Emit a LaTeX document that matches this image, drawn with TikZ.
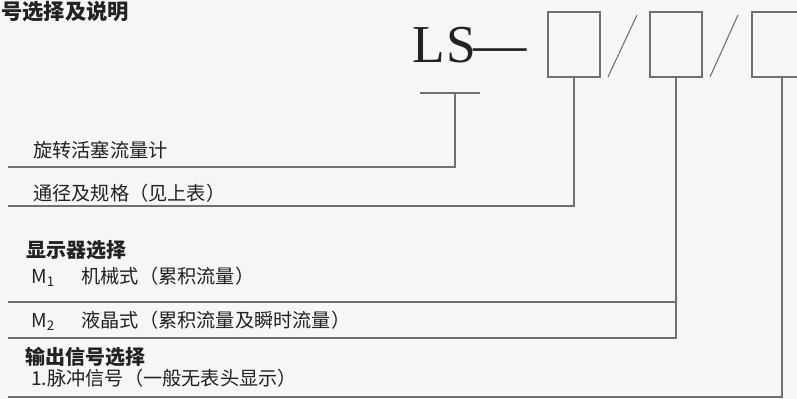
\documentclass[tikz,border=0pt]{standalone}
\usepackage{fontspec}
\setmainfont{Liberation Serif}
\newfontfamily\cjk{Noto Sans CJK SC}
\usetikzlibrary{positioning}

\definecolor{paper}{HTML}{F6F6F6}
\definecolor{ink}{HTML}{222222}
\definecolor{rule}{HTML}{707070}

\tikzstyle{selbox}=[draw=rule,line width=0.8pt,minimum width=39pt,minimum height=48.75pt,inner sep=0pt]
\tikzstyle{lead} = [draw=rule,line width=0.8pt]
\tikzstyle{label} = [anchor=west,inner sep=0pt,text=ink,font=\cjk\fontsize{14.4}{16}\selectfont]
\tikzstyle{head} = [label,font=\cjk\bfseries\fontsize{15}{18}\selectfont]

\begin{document}
\begin{tikzpicture}[x=0.75pt,y=-0.75pt]
    % canvas
    \fill[paper] (0,0) rectangle (797,399);
    \useasboundingbox (0,0) rectangle (797,399);
    \clip (0,0) rectangle (797,399);

    \node[head,font=\cjk\bfseries\fontsize{16}{18}\selectfont] (title) at (1,12) {号选择及说明};

    % model code
    \node[anchor=west,inner sep=0pt,text=ink,font=\fontsize{40}{44}\selectfont] (code) at (412,45) {L\kern1.5pt S\kern-2pt—};
    \node[selbox] (b1) at (574,44.5) {};
    \node[selbox] (b2) at (676,44.5) {};
    \node[selbox,minimum width=42pt] (b3) at (780,44.5) {};
    \draw[lead] (608,77) -- (637,15);
    \draw[lead] (710,77) -- (738,15);

    % descriptions
    \node[label] (rotary) at (33,150) {旋转活塞流量计};
    \node[label] (bore) at (33,193) {通径及规格（见上表）};
    \node[head] (disp) at (26,250) {显示器选择};
    \node[label] (m1) at (31,277) {M\textsubscript{1}\hspace{20pt}机械式（累积流量）};
    \node[label] (m2) at (31,321) {M\textsubscript{2}\hspace{20pt}液晶式（累积流量及瞬时流量）};
    \node[head] (out) at (25,357) {输出信号选择};
    \node[label] (pulse) at (31,378) {1.脉冲信号（一般无表头显示）};

    % leaders
    \coordinate (tee) at (455,93);
    \draw[lead] (420,93) -- (480,93);
    \coordinate (e0) at (8,167);
    \coordinate (e1) at (8,206);
    \coordinate (e2a) at (8,302);
    \coordinate (e2b) at (8,338);
    \coordinate (e3) at (8,397);
    \path[lead] (tee) |- (e0);
    \path[lead] (b1.south) |- (e1);
    \path[lead] (b2.south) |- (e2b);
    \path[lead] (e2a) -- (e2a -| b2.south);
    \path[lead] ([xshift=1.5pt]b3.south) |- (e3);
\end{tikzpicture}
\end{document}
